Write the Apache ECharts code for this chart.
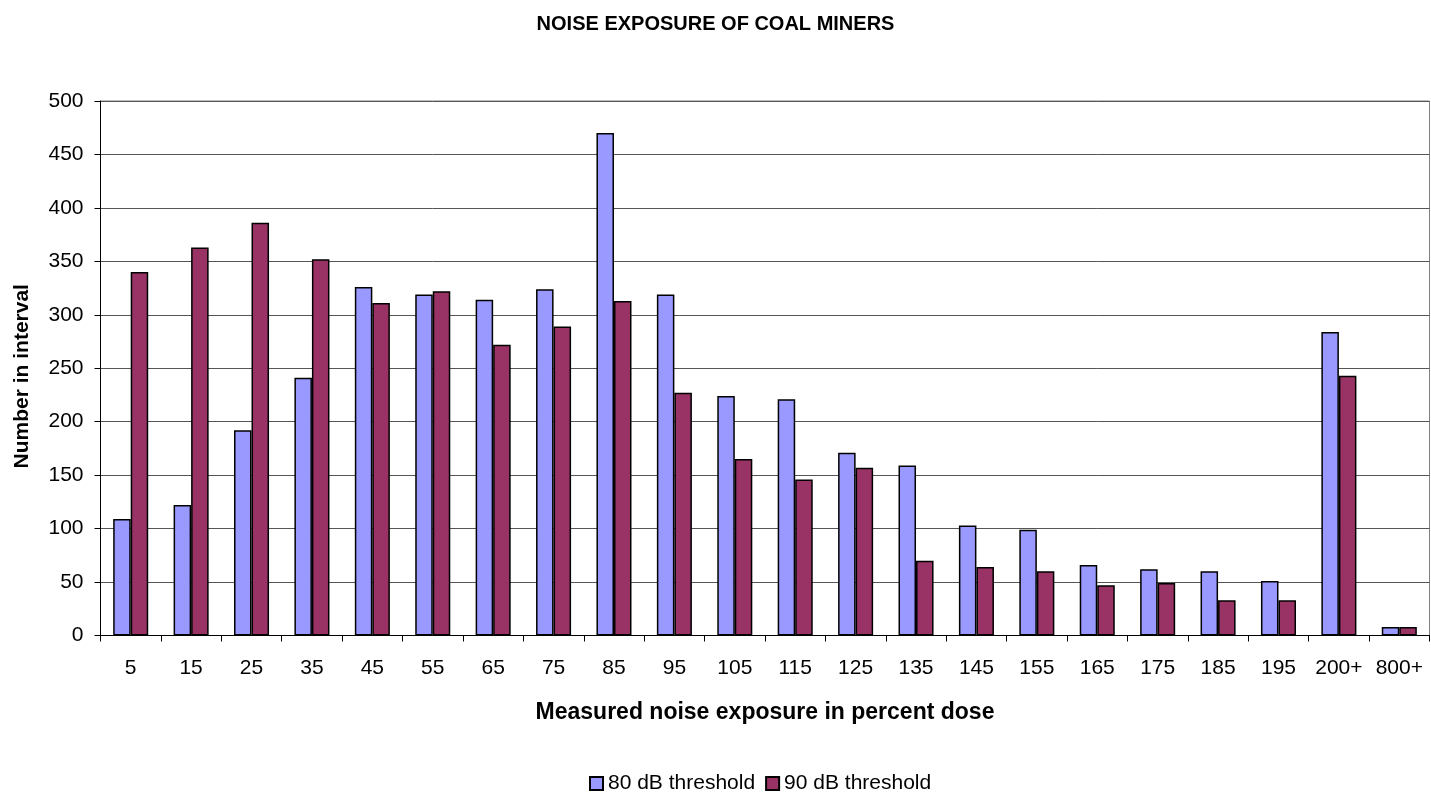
<!DOCTYPE html>
<html><head><meta charset="utf-8">
<script src="https://cdn.jsdelivr.net/npm/echarts@6/dist/echarts.min.js"></script>
<style>html,body{margin:0;padding:0;background:#fff}#c{width:1431px;height:793px}</style>
</head><body><div id="c"></div>
<script>
const categories = ['5','15','25','35','45','55','65','75','85','95','105','115','125','135','145','155','165','175','185','195','200+','800+'];
const series80 = [109,122,192,241,326,319,314,324,470,319,224,221,171,159,103,99,66,62,60,51,284,8];
const series90 = [340,363,386,352,311,322,272,289,313,227,165,146,157,70,64,60,47,49,33,33,243,8];
const seriesNames = ['80 dB threshold','90 dB threshold'];
const yTicks = {min:0, max:500, interval:50};

const font = 'Liberation Sans, Arial, sans-serif';
const chart = echarts.init(document.getElementById('c'));
chart.setOption({
  animation:false,
  backgroundColor:'#fff',
  title:{text:'NOISE EXPOSURE OF COAL MINERS', left:'center', top:9,
    textStyle:{fontFamily:font, fontSize:20, fontWeight:'bold', color:'#000'}},
  legend:{top:768, left:584, itemWidth:13, itemHeight:13, itemGap:10,
    textStyle:{fontFamily:font, fontSize:21, color:'#000'},
    data:seriesNames.map(n=>({name:n, icon:'rect'}))},
  grid:{left:100.5, right:1.5, top:101, bottom:157.5, outerBoundsMode:'none',
    show:true, borderColor:'#808080', borderWidth:1},
  xAxis:{type:'category', data:categories,
    name:'Measured noise exposure in percent dose', nameLocation:'middle', nameGap:66,
    nameTextStyle:{fontFamily:font, fontSize:23, fontWeight:'bold', color:'#000'},
    axisLine:{lineStyle:{color:'#000', width:1}},
    axisTick:{show:true, alignWithLabel:false, length:6, lineStyle:{color:'#000'}},
    axisLabel:{interval:0, fontFamily:font, fontSize:21, color:'#000', margin:22}},
  yAxis:{type:'value', min:yTicks.min, max:yTicks.max, interval:yTicks.interval,
    name:'Number in interval', nameLocation:'middle', nameGap:68,
    nameTextStyle:{fontFamily:font, fontSize:21, fontWeight:'bold', color:'#000', padding:[0,16,0,0]},
    axisLine:{show:true, lineStyle:{color:'#000', width:1}},
    axisTick:{show:true, length:6, lineStyle:{color:'#000'}},
    axisLabel:{fontFamily:font, fontSize:21, color:'#000', margin:17},
    splitLine:{show:true, lineStyle:{color:'#555', width:1}}},
  series:[
    {name:seriesNames[0], type:'bar', data:series80, barGap:'0%', barCategoryGap:'42%',
     itemStyle:{color:'#9999FF', borderColor:'#000', borderWidth:1.5}},
    {name:seriesNames[1], type:'bar', data:series90, barGap:'0%', barCategoryGap:'42%',
     itemStyle:{color:'#993366', borderColor:'#000', borderWidth:1.5}}
  ]
});
</script></body></html>
